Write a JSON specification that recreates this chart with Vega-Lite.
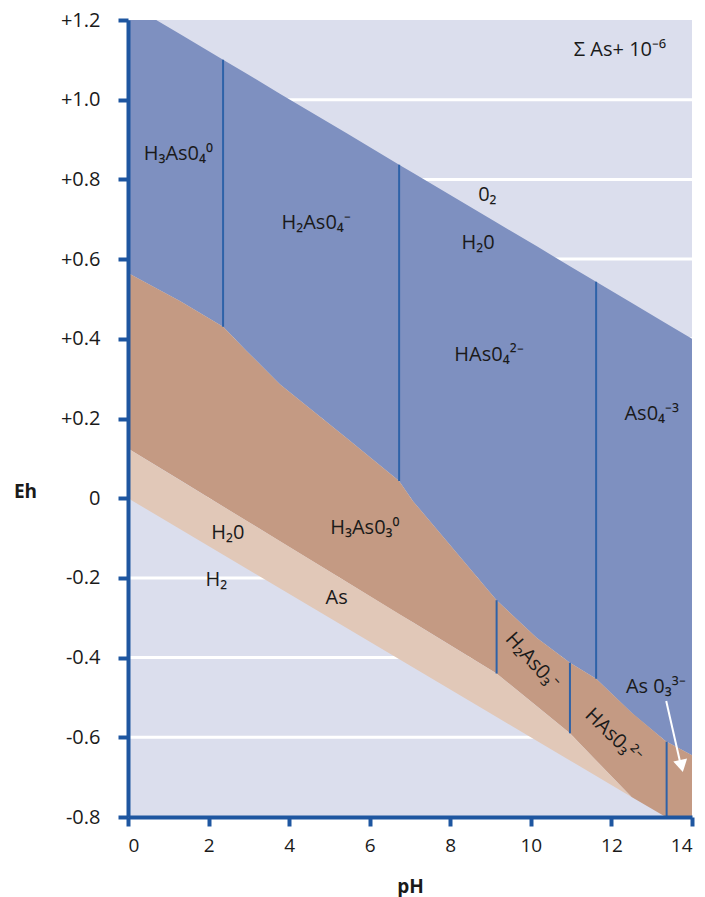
{
  "$schema": "https://vega.github.io/schema/vega-lite/v6.json",
  "width": 564,
  "height": 797,
  "autosize": "none",
  "padding": {"left": 128, "top": 20, "right": 13, "bottom": 80},
  "background": "white",
  "view": {"fill": "#DBDEED", "stroke": null},
  "config": {"font": "Open Sans"},
  "datasets": {
    "grid": [{"eh": 1.0}, {"eh": 0.8}, {"eh": 0.6}, {"eh": 0.4}, {"eh": 0.2}, {"eh": 0}, {"eh": -0.2}, {"eh": -0.4}, {"eh": -0.6}],
    "blue": [
      {"ph": 0, "top": 1.2, "bot": 0.565},
      {"ph": 0.7, "top": 1.2, "bot": 0.527},
      {"ph": 1.3, "top": 1.164, "bot": 0.494},
      {"ph": 2.36, "top": 1.1, "bot": 0.43},
      {"ph": 2.95, "top": 1.065, "bot": 0.369},
      {"ph": 3.77, "top": 1.015, "bot": 0.286},
      {"ph": 5.44, "top": 0.915, "bot": 0.15},
      {"ph": 6.73, "top": 0.837, "bot": 0.043},
      {"ph": 7.08, "top": 0.816, "bot": -0.008},
      {"ph": 9.15, "top": 0.692, "bot": -0.256},
      {"ph": 10.15, "top": 0.632, "bot": -0.351},
      {"ph": 10.97, "top": 0.582, "bot": -0.413},
      {"ph": 11.62, "top": 0.543, "bot": -0.453},
      {"ph": 12.54, "top": 0.488, "bot": -0.542},
      {"ph": 13.35, "top": 0.439, "bot": -0.61},
      {"ph": 14, "top": 0.4, "bot": -0.645}
    ],
    "dtan": [
      {"ph": 0, "top": 0.565, "bot": 0.125},
      {"ph": 1.3, "top": 0.494, "bot": 0.045},
      {"ph": 2.36, "top": 0.43, "bot": -0.021},
      {"ph": 2.95, "top": 0.369, "bot": -0.057},
      {"ph": 3.77, "top": 0.286, "bot": -0.108},
      {"ph": 5.44, "top": 0.15, "bot": -0.211},
      {"ph": 6.73, "top": 0.043, "bot": -0.291},
      {"ph": 7.08, "top": -0.008, "bot": -0.312},
      {"ph": 9.15, "top": -0.256, "bot": -0.44},
      {"ph": 10.15, "top": -0.351, "bot": -0.522},
      {"ph": 10.97, "top": -0.413, "bot": -0.59},
      {"ph": 11.62, "top": -0.453, "bot": -0.658},
      {"ph": 12.5, "top": -0.538, "bot": -0.75},
      {"ph": 13.35, "top": -0.61, "bot": -0.8},
      {"ph": 14, "top": -0.645, "bot": -0.8}
    ],
    "ltan": [
      {"ph": 0, "top": 0.125, "bot": 0},
      {"ph": 9.15, "top": -0.44, "bot": -0.549},
      {"ph": 10.97, "top": -0.59, "bot": -0.658},
      {"ph": 12.5, "top": -0.75, "bot": -0.75}
    ],
    "vlines": [
      {"ph": 2.36, "lo": 0.43, "hi": 1.1},
      {"ph": 6.73, "lo": 0.043, "hi": 0.837},
      {"ph": 11.62, "lo": -0.453, "hi": 0.543},
      {"ph": 9.15, "lo": -0.44, "hi": -0.256},
      {"ph": 10.97, "lo": -0.59, "hi": -0.413},
      {"ph": 13.37, "lo": -0.8, "hi": -0.611}
    ],
    "labels": [
      {"ph": 1.25, "eh": 0.848, "label": "H₃As0₄⁰"},
      {"ph": 4.67, "eh": 0.675, "label": "H₂As0₄⁻"},
      {"ph": 8.92, "eh": 0.745, "label": "0₂"},
      {"ph": 8.69, "eh": 0.625, "label": "H₂0"},
      {"ph": 8.96, "eh": 0.344, "label": "HAs0₄²⁻"},
      {"ph": 13.0, "eh": 0.196, "label": "As0₄⁻³"},
      {"ph": 12.21, "eh": 1.109, "label": "Σ As+ 10⁻⁶"},
      {"ph": 2.48, "eh": -0.103, "label": "H₂0"},
      {"ph": 2.19, "eh": -0.221, "label": "H₂"},
      {"ph": 5.88, "eh": -0.09, "label": "H₃As0₃⁰"},
      {"ph": 5.18, "eh": -0.266, "label": "As"},
      {"ph": 13.1, "eh": -0.49, "label": "As 0₃³⁻"}
    ],
    "rlabels": [
      {"ph": 10.03, "eh": -0.409, "label": "H₂As0₃⁻", "angle": 48},
      {"ph": 12.04, "eh": -0.597, "label": "HAs0₃²⁻", "angle": 44}
    ],
    "arrow": [{"ph": 13.36, "eh": -0.509, "ph2": 13.7, "eh2": -0.66}],
    "head": [{"ph": 13.74, "eh": -0.672}]
  },
  "encoding": {
    "x": {"field": "ph", "type": "quantitative", "scale": {"domain": [0, 14], "nice": false},
      "axis": {
        "title": "pH", "titleFontSize": 19, "titleFontWeight": "bold", "titleColor": "#1a1a1a",
        "titleBaseline": "alphabetic", "titleY": 75,
        "values": [0, 2, 4, 6, 8, 10, 12, 14], "labelFontSize": 19, "labelColor": "#1a1a1a", "labelPadding": 10,
        "domainColor": "#1E56A0", "domainWidth": 4, "tickColor": "#1E56A0", "tickWidth": 4, "tickSize": 9,
        "grid": false, "zindex": 2
      }},
    "y": {"type": "quantitative", "scale": {"domain": [-0.8, 1.2], "nice": false, "zero": false},
      "axis": {
        "title": "Eh", "titleFontSize": 19, "titleFontWeight": "bold", "titleColor": "#1a1a1a",
        "titleAngle": 0, "titleAlign": "center", "titleBaseline": "alphabetic", "titleX": -103, "titleY": 477,
        "values": [-0.8, -0.6, -0.4, -0.2, 0, 0.2, 0.4, 0.6, 0.8, 1.0, 1.2],
        "labelExpr": "abs(datum.value) < 1e-9 ? '0' : (datum.value > 0 ? '+' + format(datum.value, '.1f') : '-' + format(-datum.value, '.1f'))",
        "labelFontSize": 20, "labelColor": "#1a1a1a", "labelPadding": 18,
        "domainColor": "#1E56A0", "domainWidth": 4, "tickColor": "#1E56A0", "tickWidth": 4, "tickSize": 10,
        "grid": false, "zindex": 2
      }}
  },
  "layer": [
    {
      "data": {"name": "grid"},
      "mark": {"type": "rule", "color": "white", "strokeWidth": 3},
      "encoding": {"x": null, "y": {"field": "eh", "type": "quantitative"}}
    },
    {
      "data": {"name": "blue"},
      "mark": {"type": "area", "color": "#7E90C0", "opacity": 1},
      "encoding": {"y": {"field": "top", "type": "quantitative"}, "y2": {"field": "bot"}}
    },
    {
      "data": {"name": "dtan"},
      "mark": {"type": "area", "color": "#C49A83", "opacity": 1},
      "encoding": {"y": {"field": "top", "type": "quantitative"}, "y2": {"field": "bot"}}
    },
    {
      "data": {"name": "ltan"},
      "mark": {"type": "area", "color": "#E1C8B8", "opacity": 1},
      "encoding": {"y": {"field": "top", "type": "quantitative"}, "y2": {"field": "bot"}}
    },
    {
      "data": {"name": "vlines"},
      "mark": {"type": "rule", "color": "#2E62A8", "strokeWidth": 2},
      "encoding": {"y": {"field": "lo", "type": "quantitative"}, "y2": {"field": "hi"}}
    },
    {
      "data": {"name": "labels"},
      "mark": {"type": "text", "fontSize": 20, "color": "#1a1a1a", "align": "center", "baseline": "alphabetic"},
      "encoding": {"y": {"field": "eh", "type": "quantitative"}, "text": {"field": "label"}}
    },
    {
      "data": {"name": "rlabels"},
      "mark": {"type": "text", "fontSize": 20, "color": "#1a1a1a", "align": "center", "baseline": "middle"},
      "encoding": {"y": {"field": "eh", "type": "quantitative"}, "text": {"field": "label"}, "angle": {"field": "angle", "type": "quantitative", "scale": null}}
    },
    {
      "data": {"name": "arrow"},
      "mark": {"type": "rule", "color": "white", "strokeWidth": 2},
      "encoding": {"y": {"field": "eh", "type": "quantitative"}, "x2": {"field": "ph2"}, "y2": {"field": "eh2"}}
    },
    {
      "data": {"name": "head"},
      "mark": {"type": "point", "shape": "triangle-down", "filled": true, "color": "white", "opacity": 1, "size": 200, "angle": 347.6},
      "encoding": {"y": {"field": "eh", "type": "quantitative"}}
    }
  ]
}
